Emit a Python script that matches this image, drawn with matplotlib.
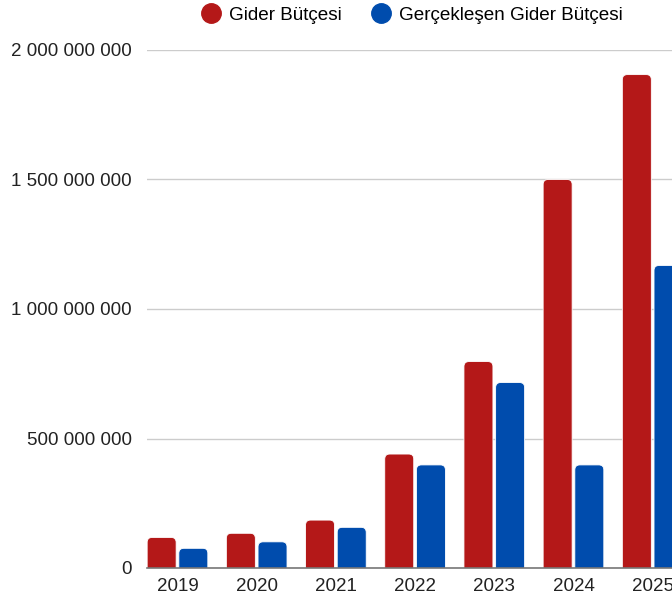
import matplotlib
matplotlib.use("Agg")
import matplotlib.pyplot as plt
import numpy as np
from matplotlib.patches import FancyBboxPatch
from matplotlib.lines import Line2D
from matplotlib.ticker import FuncFormatter

# veriler
years = ["2019", "2020", "2021", "2022", "2023", "2024", "2025"]
gider_butcesi = [118e6, 134e6, 185e6, 440e6, 797e6, 1500e6, 1905e6]
gerceklesen = [76e6, 101e6, 157e6, 398e6, 716e6, 398e6, 1168e6]
series_names = ["Gider Bütçesi", "Gerçekleşen Gider Bütçesi"]
y_ticks = [0, 500e6, 1000e6, 1500e6, 2000e6]

RED = "#B41818"
BLUE = "#004CAD"

plt.rcParams['font.family'] = ['Liberation Sans', 'DejaVu Sans']

W, H = 672, 601
fig = plt.figure(figsize=(W / 100, H / 100), dpi=100)
left_px, right_px = 147, 672
bottom_px, top_px = 568, 50
ax = fig.add_axes([left_px / W, (H - bottom_px) / H,
                   (right_px - left_px) / W, (bottom_px - top_px) / H])

x = np.arange(len(years))
bw = 0.366
off = 0.2
ax.set_xlim(-0.385, 6.244)
ax.set_ylim(0, 2e9)

px_per_x = 79.2
y_per_px = 2e9 / (bottom_px - top_px)
r_px = 5
r_x = r_px / px_per_x
aspect = y_per_px * px_per_x

for vals, color, sgn in [(gider_butcesi, RED, -1), (gerceklesen, BLUE, 1)]:
    bars = ax.bar(x + sgn * off, vals, width=bw, color=color)
    for b in bars:
        x0, w, h = b.get_x(), b.get_width(), b.get_height()
        ry = r_px * y_per_px
        p = FancyBboxPatch((x0, -ry), w, h + ry,
                           boxstyle=f"round,pad=0,rounding_size={r_x}",
                           mutation_aspect=aspect, facecolor=color,
                           edgecolor="white", linewidth=0.6, zorder=3)
        ax.add_patch(p)
        b.remove()

ax.set_yticks(y_ticks)
ax.yaxis.set_major_formatter(FuncFormatter(lambda v, p: f"{int(v):,}".replace(",", " ")))
ax.set_xticks(x)
ax.set_xticklabels(years)
ax.tick_params(axis='both', length=0, labelsize=13.5, colors="#222222")
ax.tick_params(axis='y', pad=11)
ax.tick_params(axis='x', pad=7.5)
ax.grid(axis='y', color="#cccccc", linewidth=1)
ax.set_axisbelow(True)
for s in ["top", "right", "left"]:
    ax.spines[s].set_visible(False)
ax.spines["bottom"].set_color("#777777")
ax.spines["bottom"].set_linewidth(1.2)
ax.spines["bottom"].set_zorder(4)

handles = [Line2D([], [], marker='o', linestyle='', markersize=14, color=RED),
           Line2D([], [], marker='o', linestyle='', markersize=14, color=BLUE)]
fig.legend(handles, series_names, loc='center', ncol=2, frameon=False,
           bbox_to_anchor=(412 / W, 1 - 15 / H), fontsize=13.6,
           handletextpad=0.45, columnspacing=1.6, handlelength=1.0)

fig.savefig("out.png", dpi=100)
